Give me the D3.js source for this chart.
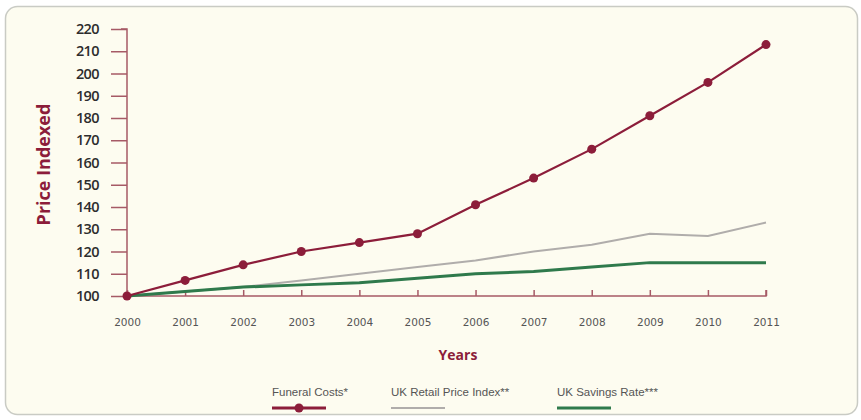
<!DOCTYPE html>
<html>
<head>
<meta charset="utf-8">
<script src="https://cdn.jsdelivr.net/npm/d3@7"></script>
<style>
	body{margin:0;background:#fff;}
	svg{display:block;}
</style>
</head>
<body>
<svg id="chart" width="861" height="420"></svg>
<script>
var years = [2000, 2001, 2002, 2003, 2004, 2005, 2006, 2007, 2008, 2009, 2010, 2011];
var funeralCosts = [100, 107, 114, 120, 124, 128, 141, 153, 166, 181, 196, 213];
var retailPriceIndex = [100, 102, 104, 107, 110, 113, 116, 120, 123, 128, 127, 133];
var savingsRate = [100, 102, 104, 105, 106, 108, 110, 111, 113, 115, 115, 115];
var yTicks = [100, 110, 120, 130, 140, 150, 160, 170, 180, 190, 200, 210, 220];
var seriesNames = ["Funeral Costs*", "UK Retail Price Index**", "UK Savings Rate***"];

(function(){
	'use strict'
	var svg = d3.select("#chart");
	var maroon = "#8c1d3a",
		axisCol = "#a65a66",
		grey = "#b0adab",
		green = "#2f7a4c";

	// card
	svg.append("rect")
		.attr("x", 5.5).attr("y", 6.5)
		.attr("width", 852).attr("height", 408)
		.attr("rx", 12)
		.attr("fill", "#fdfcf0")
		.attr("stroke", "#c9cbc4")
		.attr("stroke-width", 1.5);

	var x = d3.scaleLinear().domain([2000, 2011]).range([127, 766]);
	var y = d3.scaleLinear().domain([100, 220]).range([296, 29]);

	// y axis
	var yAxis = svg.append("g")
		.attr("transform", "translate(" + x(2000) + ",0)")
		.call(d3.axisLeft(y).tickValues(yTicks).tickSize(16).tickPadding(12));
	yAxis.select(".domain").attr("stroke", axisCol).attr("stroke-width", 1.5).attr("d", "M-6," + y(220) + "H0V" + y(100));
	yAxis.selectAll(".tick line").attr("stroke", axisCol).attr("stroke-width", 1.5);
	yAxis.selectAll(".tick text")
		.attr("fill", "#2d2d2d")
		.style("font-family", "'Open Sans', sans-serif")
		.style("font-size", "14.5px")
		.style("font-weight", "600")
		.style("letter-spacing", "-0.6px");

	// x axis
	var xAxis = svg.append("g")
		.attr("transform", "translate(0," + y(100) + ")")
		.call(d3.axisBottom(x).tickValues(years).tickFormat(d3.format("d")).tickSize(-6).tickPadding(23));
	xAxis.select(".domain").attr("stroke", axisCol).attr("stroke-width", 1.5).attr("d", "M" + x(2000) + ",0H" + x(2011) + "V-6");
	xAxis.selectAll(".tick line").attr("stroke", axisCol).attr("stroke-width", 1.5);
	xAxis.selectAll(".tick text")
		.attr("fill", "#555")
		.style("font-family", "'DejaVu Sans', sans-serif")
		.style("font-size", "10.5px");

	// titles
	svg.append("text")
		.attr("transform", "translate(50," + ((y(100) + y(220)) / 2 + 2) + ") rotate(-90)")
		.attr("text-anchor", "middle")
		.attr("fill", maroon)
		.style("font-family", "'Open Sans', sans-serif")
		.style("font-size", "18px")
		.style("font-weight", "700")
		.text("Price Indexed");
	svg.append("text")
		.attr("x", 458).attr("y", 360)
		.attr("text-anchor", "middle")
		.attr("fill", maroon)
		.style("font-family", "'Open Sans', sans-serif")
		.style("font-size", "14px")
		.style("font-weight", "700")
		.text("Years");

	var line = d3.line()
		.x(function(d, i){ return x(years[i]); })
		.y(function(d){ return y(d); });

	svg.append("path").datum(retailPriceIndex)
		.attr("d", line).attr("fill", "none")
		.attr("stroke", grey).attr("stroke-width", 2);
	svg.append("path").datum(savingsRate)
		.attr("d", line).attr("fill", "none")
		.attr("stroke", green).attr("stroke-width", 3);
	svg.append("path").datum(funeralCosts)
		.attr("d", line).attr("fill", "none")
		.attr("stroke", maroon).attr("stroke-width", 2.2);
	svg.selectAll("circle.pt").data(funeralCosts).enter()
		.append("circle").attr("class", "pt")
		.attr("cx", function(d, i){ return x(years[i]); })
		.attr("cy", function(d){ return y(d); })
		.attr("r", 4.5)
		.attr("fill", maroon);

	// legend
	var legendX = [272, 391, 557];
	var legendCols = [maroon, grey, green];
	var legendW = [3, 2, 3];
	var lg = svg.append("g");
	seriesNames.forEach(function(name, i){
		lg.append("text")
			.attr("x", legendX[i]).attr("y", 396)
			.attr("fill", "#555")
			.style("font-family", "'Liberation Sans Narrow', 'Liberation Sans', sans-serif")
			.style("font-size", "11.5px")
			.text(name);
		lg.append("line")
			.attr("x1", legendX[i]).attr("x2", legendX[i] + 54)
			.attr("y1", 408).attr("y2", 408)
			.attr("stroke", legendCols[i]).attr("stroke-width", legendW[i]);
	});
	lg.append("circle").attr("cx", legendX[0] + 27).attr("cy", 408).attr("r", 4.5).attr("fill", maroon);
})();
</script>
</body>
</html>
